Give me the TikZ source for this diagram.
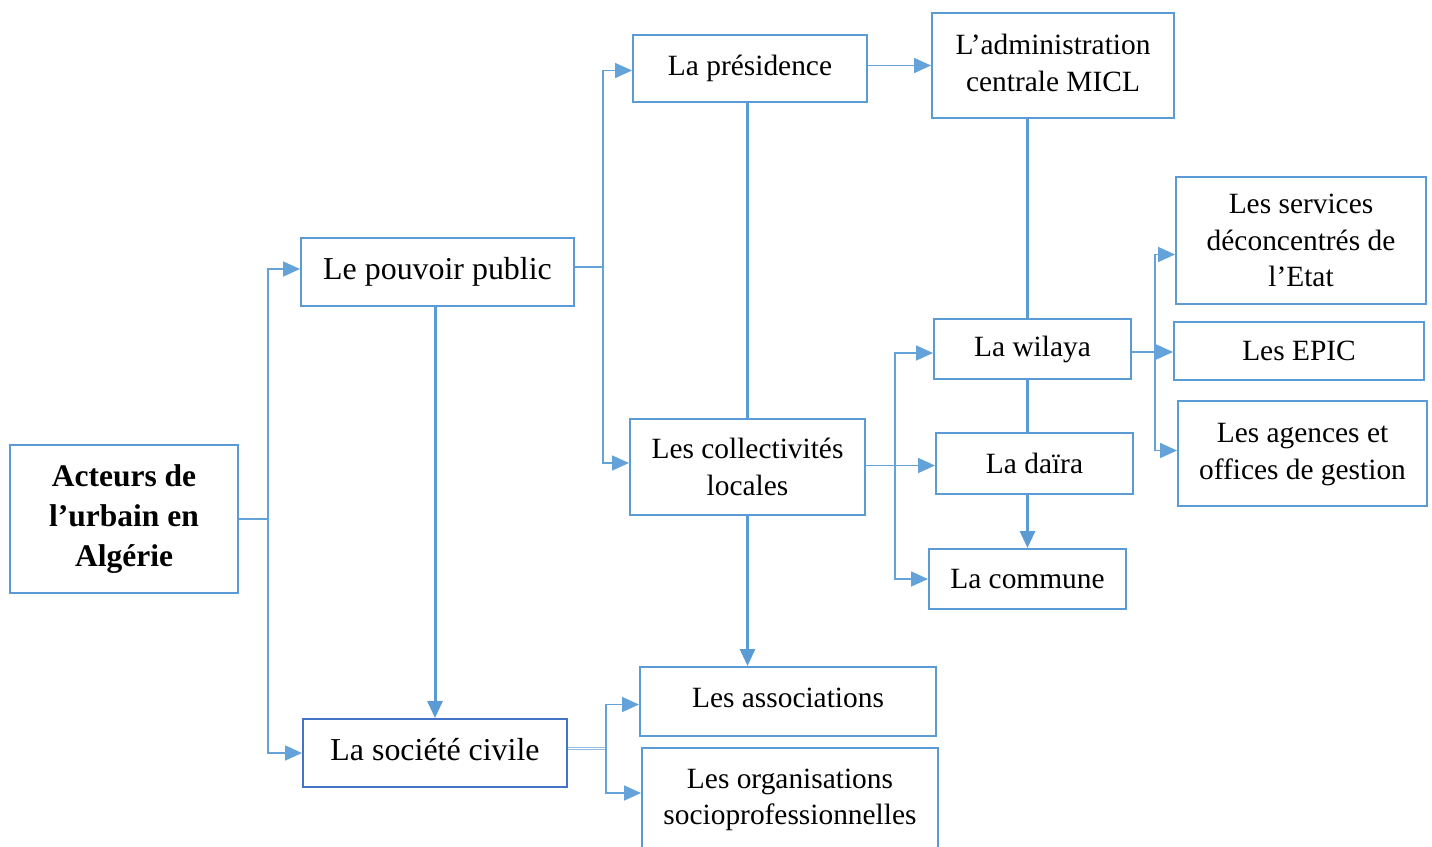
\documentclass[tikz,border=0pt]{standalone}
\usepackage{fontspec}
\setmainfont{Liberation Serif}
\usetikzlibrary{arrows.meta,calc}
\definecolor{boxblue}{RGB}{91,155,213}
\definecolor{darkblue}{RGB}{68,114,196}
\definecolor{linkblue}{RGB}{100,162,218}
\begin{document}
\begin{tikzpicture}[x=1pt,y=-1pt,
  box/.style={draw=boxblue,line width=2pt,rectangle,inner sep=0pt,align=center,
    font=\fontsize{29.4}{36.5}\selectfont},
  big/.style={font=\fontsize{31.9}{38}\selectfont},
  link/.style={draw=linkblue,line width=1.7pt},
  thick link/.style={draw=boxblue,line width=3pt},
  tip/.style={-{Triangle[length=17pt,width=15pt]}}]
\useasboundingbox (0,0) rectangle (1432,846);
\fill[white] (0,0) rectangle (1432,846);

% boxes
\node[box,minimum width=228pt,minimum height=148pt,
  font=\fontsize{31.5}{40}\selectfont\bfseries] (act) at (124,519) {Acteurs de\\l’urbain en\\Algérie};
\node[box,big,minimum width=273pt,minimum height=68pt] (pp) at (437.5,272) {\raisebox{2pt}{Le pouvoir public}};
\node[box,big,draw=darkblue,minimum width=264pt,minimum height=68pt] (sc) at (435,753) {\raisebox{8pt}{La société civile}};
\node[box,minimum width=234pt,minimum height=67pt] (pres) at (750,68.5) {\raisebox{6pt}{La présidence}};
\node[box,minimum width=242pt,minimum height=105pt] (micl) at (1053,65.5)
  {\raisebox{13pt}{\begin{tabular}{@{}c@{}}L’administration\\centrale MICL\end{tabular}}};
\node[box,minimum width=235pt,minimum height=96pt] (coll) at (747.5,467) {Les collectivités\\locales};
\node[box,minimum width=197pt,minimum height=60pt] (wil) at (1032.5,349) {La wilaya};
\node[box,minimum width=197pt,minimum height=61pt] (dai) at (1034.5,463.5) {La daïra};
\node[box,minimum width=197pt,minimum height=60pt] (com) at (1027.5,579) {La commune};
\node[box,minimum width=250pt,minimum height=127pt] (serv) at (1301,240.5) {Les services\\déconcentrés de\\l’Etat};
\node[box,minimum width=250pt,minimum height=58pt] (epic) at (1299,351) {Les EPIC};
\node[box,minimum width=249pt,minimum height=105pt] (agen) at (1302.5,453.5)
  {\raisebox{9pt}{\begin{tabular}{@{}c@{}}Les agences et\\offices de gestion\end{tabular}}};
\node[box,minimum width=296pt,minimum height=69pt] (asso) at (788,701.5) {\raisebox{8pt}{Les associations}};
\node[box,minimum width=296pt,minimum height=104pt] (org) at (790,800) {Les organisations\\socioprofessionnelles};

% branch points of the trunks
\coordinate (j1) at (268,0);
\coordinate (j2) at (603,0);
\coordinate (j3) at (895,0);
\coordinate (j4) at (1155,0);
\coordinate (j5) at (606,0);
\coordinate (v1) at (1027,0);

% actors -> public power / civil society
\draw[link] (act.east) -- (j1 |- act.east);
\draw[link,tip] (j1 |- act.east) |- ([yshift=3pt]pp.west);
\draw[link,tip] (j1 |- act.east) |- (sc.west);

% public power -> presidency / local authorities
\draw[link] ([yshift=5pt]pp.east) -- ([yshift=5pt]j2 |- pp.east);
\draw[link,tip] ([yshift=5pt]j2 |- pp.east) |- ([yshift=-2pt]pres.west);
\draw[link,tip] ([yshift=5pt]j2 |- pp.east) |- ([yshift=4pt]coll.west);
\draw[thick link,tip] (sc.north |- pp.south) -- (sc.north);

% presidency
\draw[link,tip] ([yshift=3pt]pres.east) -- ([yshift=3pt]pres.east -| micl.west);
\draw[thick link] (coll.north |- pres.south) -- (coll.north);

% central administration -> wilaya -> daïra -> commune
\draw[thick link] (v1 |- micl.south) -- (v1 |- wil.north);
\draw[thick link] (v1 |- wil.south) -- (v1 |- dai.north);
\draw[thick link,tip] (com.north |- dai.south) -- (com.north);

% local authorities -> wilaya / daïra / commune
\draw[link,tip] ([yshift=-2pt]dai.west -| coll.east) -- ([yshift=-2pt]dai.west);
\draw[link,tip] ([yshift=-2pt]j3 |- dai.west) |- ([yshift=-4pt]wil.west);
\draw[link,tip] ([yshift=-2pt]j3 |- dai.west) |- (com.west);
\draw[thick link,tip] (coll.south) -- (coll.south |- asso.north);

% wilaya -> state services
\draw[link] ([yshift=-3pt]wil.east) -- ([yshift=-3pt]j4 |- wil.east);
\draw[link,tip] ([yshift=-3pt]j4 |- wil.east) |- ([yshift=-14pt]serv.west);
\draw[link,tip] ([yshift=-3pt]j4 |- wil.east) -- ([yshift=-3pt]wil.east -| epic.west);
\draw[link,tip] ([yshift=-3pt]j4 |- wil.east) |- ([yshift=3pt]agen.west);

% civil society -> associations / organisations
\draw[draw=linkblue!70,line width=1pt,double=white,double distance=1pt] ([yshift=5pt]sc.east) -- ([yshift=5pt]j5 |- sc.east);
\draw[link,tip] ([yshift=5pt]j5 |- sc.east) |- ([yshift=-3pt]asso.west);
\draw[link,tip] ([yshift=5pt]j5 |- sc.east) |- ([yshift=7pt]org.west);
\end{tikzpicture}
\end{document}
